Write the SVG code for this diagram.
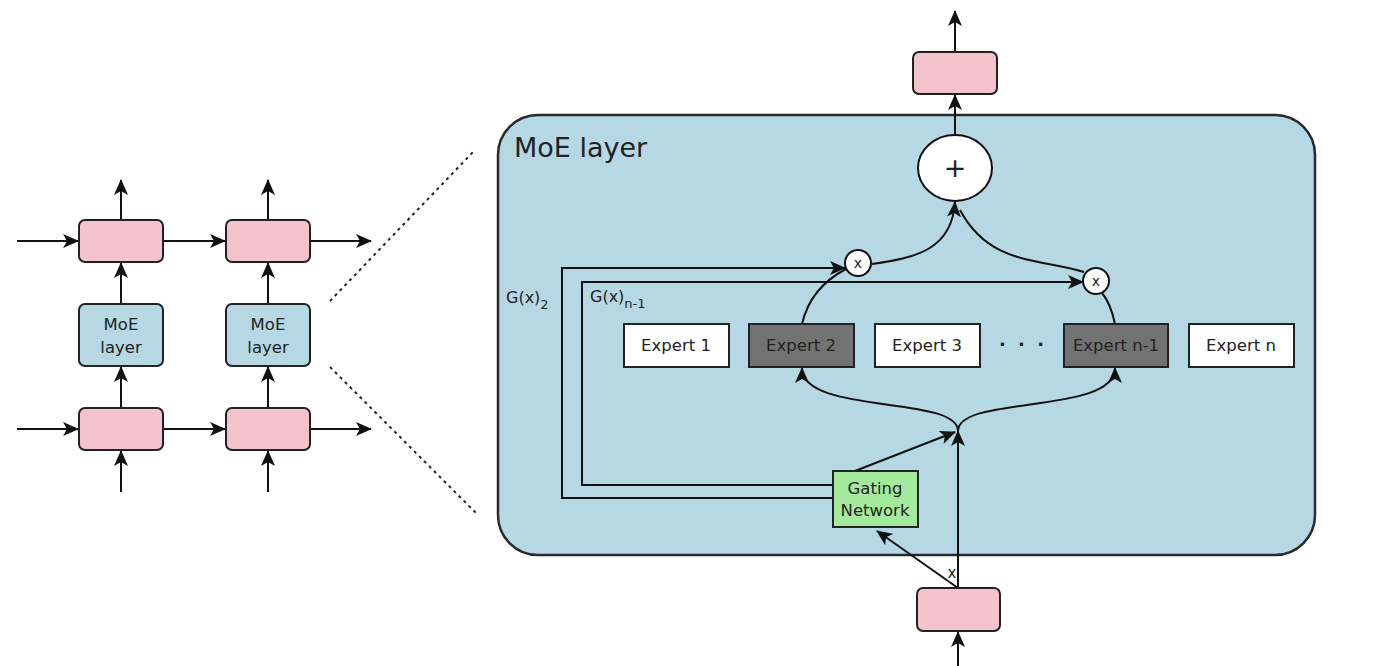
<svg xmlns="http://www.w3.org/2000/svg" width="1373" height="666" viewBox="0 0 1373 666">
<style>
text{font-family:"DejaVu Sans","Liberation Sans",sans-serif;fill:#222}
.pink{fill:#f5c3cc;stroke:#222;stroke-width:2}
.moe{fill:#b5d8e4;stroke:#222;stroke-width:2}
.ln{fill:none;stroke:#111;stroke-width:2}
.arr{fill:none;stroke:#111;stroke-width:2;marker-end:url(#ah)}
.dot{fill:none;stroke:#222;stroke-width:2;stroke-dasharray:3,4}
.ex{fill:#fff;stroke:#222;stroke-width:2}
.exd{fill:#727272;stroke:#222;stroke-width:2}
.lbl{font-size:16.5px;text-anchor:middle}
</style>
<defs>
<marker id="ah" viewBox="0 0 16 14" refX="15" refY="7" markerWidth="16" markerHeight="14" markerUnits="userSpaceOnUse" orient="auto">
<path d="M0,0 L16,7 L0,14 L4,7 z" fill="#111"/>
</marker>
</defs>

<g id="big-moe">
<rect x="498" y="115" width="817" height="440" rx="40" ry="40" fill="#b5d8e4" stroke="#2a2a2a" stroke-width="2.5"/>
<text x="514" y="157" font-size="27">MoE layer</text>
</g>

<g id="connectors">
<path class="arr" d="M17,241 H78"/>
<path class="arr" d="M164,241 H225"/>
<path class="arr" d="M311,241 H371"/>
<path class="arr" d="M17,429 H78"/>
<path class="arr" d="M164,429 H225"/>
<path class="arr" d="M311,429 H371"/>
<path class="arr" d="M121,220 V180"/>
<path class="arr" d="M268,220 V180"/>
<path class="arr" d="M121,303 V263"/>
<path class="arr" d="M268,303 V263"/>
<path class="arr" d="M121,408 V367"/>
<path class="arr" d="M268,408 V367"/>
<path class="arr" d="M121,492 V451"/>
<path class="arr" d="M268,492 V451"/>
<path class="dot" d="M330,301 L474,151"/>
<path class="dot" d="M330,367 L476,513"/>
<path class="arr" d="M955,52 V11"/>
<path class="arr" d="M955,135 V95"/>
<path class="arr" d="M958,666 V632"/>
<path class="arr" d="M958,588 L877,531"/>
<path class="arr" d="M958,588 V431"/>
<path class="arr" d="M855,471 L955,432"/>
<path class="arr" d="M958,431 C958,395 802,415 802,368"/>
<path class="arr" d="M958,431 C958,395 1115,415 1115,368"/>
<path class="ln" d="M802,324 C808,298 825,280 846,269"/>
<path class="arr" d="M872,264 C915,258 952,250 955,202"/>
<path class="ln" d="M1115,324 C1112,310 1108,300 1102,293"/>
<path class="ln" d="M1084,272 C1040,258 990,266 960,210"/>
<path class="ln" d="M833,498 H562 V268 H820"/>
<path class="arr" d="M820,268 H845"/>
<path class="ln" d="M833,485 H582 V282 H1060"/>
<path class="arr" d="M1060,282 H1083"/>
</g>

<g id="left-pink-1"><rect class="pink" x="79" y="220" width="84" height="42" rx="6"/></g>
<g id="left-pink-2"><rect class="pink" x="226" y="220" width="84" height="42" rx="6"/></g>
<g id="left-pink-3"><rect class="pink" x="79" y="408" width="84" height="42" rx="6"/></g>
<g id="left-pink-4"><rect class="pink" x="226" y="408" width="84" height="42" rx="6"/></g>
<g id="left-moe-1"><rect class="moe" x="79" y="304" width="84" height="62" rx="6"/>
<text class="lbl" x="121" y="330">MoE</text><text class="lbl" x="121" y="353">layer</text></g>
<g id="left-moe-2"><rect class="moe" x="226" y="304" width="84" height="62" rx="6"/>
<text class="lbl" x="268" y="330">MoE</text><text class="lbl" x="268" y="353">layer</text></g>

<g id="top-pink"><rect class="pink" x="913" y="52" width="84" height="42" rx="6"/></g>
<g id="bottom-pink"><rect class="pink" x="917" y="588" width="83" height="43" rx="6"/></g>
<g id="plus"><ellipse cx="955" cy="168" rx="37" ry="33" fill="#fff" stroke="#111" stroke-width="2"/>
<text x="955" y="177" font-size="27" text-anchor="middle">+</text></g>
<g id="mult-1"><circle cx="858" cy="263" r="13" fill="#fff" stroke="#111" stroke-width="2"/>
<text x="858" y="268" font-size="14" text-anchor="middle">x</text></g>
<g id="mult-2"><circle cx="1096" cy="281" r="13" fill="#fff" stroke="#111" stroke-width="2"/>
<text x="1096" y="286" font-size="14" text-anchor="middle">x</text></g>

<g id="expert-1"><rect class="ex" x="624" y="324" width="105" height="43"/><text class="lbl" x="676" y="351">Expert 1</text></g>
<g id="expert-2"><rect class="exd" x="749" y="324" width="105" height="43"/><text class="lbl" x="801" y="351">Expert 2</text></g>
<g id="expert-3"><rect class="ex" x="875" y="324" width="105" height="43"/><text class="lbl" x="927" y="351">Expert 3</text></g>
<g id="dots"><text x="1023" y="351" font-size="18" text-anchor="middle" font-weight="bold" letter-spacing="3">· · ·</text></g>
<g id="expert-n-1"><rect class="exd" x="1064" y="324" width="104" height="43"/><text class="lbl" x="1116" y="351">Expert n-1</text></g>
<g id="expert-n"><rect class="ex" x="1189" y="324" width="105" height="43"/><text class="lbl" x="1241" y="351">Expert n</text></g>

<g id="gating"><rect x="833" y="471" width="85" height="56" fill="#a4ea9c" stroke="#222" stroke-width="2"/>
<text class="lbl" x="875" y="494">Gating</text><text class="lbl" x="875" y="516">Network</text></g>

<g id="labels">
<text x="506" y="303" font-size="16">G(x)<tspan font-size="13" dy="6">2</tspan></text>
<text x="590" y="302" font-size="16">G(x)<tspan font-size="13" dy="6">n-1</tspan></text>
<text x="952" y="578" font-size="15" text-anchor="middle">x</text>
</g>
</svg>
